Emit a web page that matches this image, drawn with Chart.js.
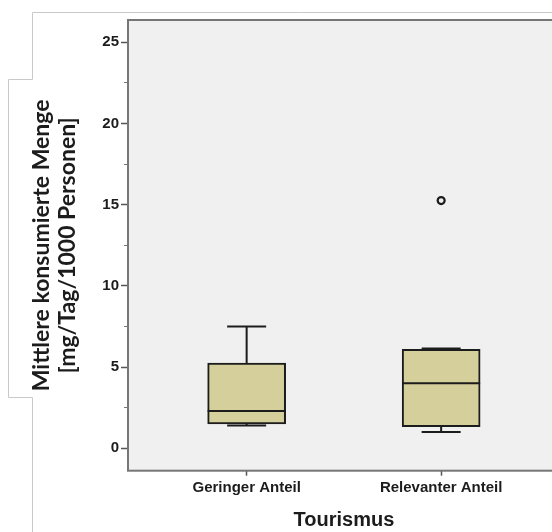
<!DOCTYPE html>
<html>
<head>
<meta charset="utf-8">
<script src="https://cdn.jsdelivr.net/npm/chart.js@4.4.0/dist/chart.umd.min.js"></script>
<style>
  html, body { margin: 0; padding: 0; background: #ffffff; overflow: hidden; width: 552px; height: 532px; }
  #wrap { position: relative; width: 566px; height: 532px; }
</style>
</head>
<body>
<div id="wrap"><canvas id="c" width="566" height="532"></canvas></div>
<script>
// Boxplot statistics per group
const categories  = ['Geringer Anteil', 'Relevanter Anteil'];
const whiskerLow  = [1.4, 1.0];
const q1          = [1.5, 1.33];
const median      = [2.3, 4.0];
const q3          = [5.25, 6.1];
const whiskerHigh = [7.5, 6.15];
const outliers    = [[], [15.25]];

// Axis ticks
const yTicks      = [0, 5, 10, 15, 20, 25];
const yMinorTicks = [2.5, 7.5, 12.5, 17.5, 22.5];
const yTitle      = ['Mittlere konsumierte Menge', '[mg/Tag/1000 Personen]'];
const xTitle      = 'Tourismus';

const BOX_WIDTH = 78;
const INK = '#1c1c1c';

// Background panel, plot frame and the outline of the label box
const framePlugin = {
  id: 'frame',
  beforeDraw(chart) {
    const { ctx, chartArea: a } = chart;
    ctx.save();
    ctx.strokeStyle = '#c9c9c9';
    ctx.lineWidth = 1;
    ctx.beginPath();
    ctx.moveTo(chart.width, 12.5);
    ctx.lineTo(32.5, 12.5);
    ctx.lineTo(32.5, 79.5);
    ctx.lineTo(8.5, 79.5);
    ctx.lineTo(8.5, 397.5);
    ctx.lineTo(32.5, 397.5);
    ctx.lineTo(32.5, chart.height);
    ctx.stroke();
    ctx.fillStyle = '#f0f0f0';
    ctx.fillRect(a.left, a.top, a.right - a.left, a.bottom - a.top);
    ctx.restore();
  },
  afterDraw(chart) {
    const { ctx, chartArea: a } = chart;
    ctx.save();
    ctx.strokeStyle = '#767676';
    ctx.lineWidth = 2;
    ctx.strokeRect(a.left, a.top, a.right - a.left, a.bottom - a.top);
    ctx.restore();
  }
};

// Whiskers, caps and median lines drawn through the scales
const boxPlugin = {
  id: 'boxParts',
  afterDatasetsDraw(chart) {
    const { ctx } = chart;
    const xs = chart.scales.x, ys = chart.scales.y;
    ctx.save();
    ctx.strokeStyle = INK;
    ctx.lineWidth = 2;
    ctx.lineCap = 'butt';
    categories.forEach((c, i) => {
      const cx = xs.getPixelForValue(i + 1);
      const half = BOX_WIDTH / 2;
      const cap = BOX_WIDTH / 4;
      const yQ1 = ys.getPixelForValue(q1[i]);
      const yQ3 = ys.getPixelForValue(q3[i]);
      const yLo = ys.getPixelForValue(whiskerLow[i]);
      const yHi = ys.getPixelForValue(whiskerHigh[i]);
      const yMed = ys.getPixelForValue(median[i]);
      ctx.beginPath();
      ctx.moveTo(cx, yQ3); ctx.lineTo(cx, yHi);
      ctx.moveTo(cx - cap, yHi); ctx.lineTo(cx + cap, yHi);
      ctx.moveTo(cx, yQ1); ctx.lineTo(cx, yLo);
      ctx.moveTo(cx - cap, yLo); ctx.lineTo(cx + cap, yLo);
      ctx.moveTo(cx - half, yMed); ctx.lineTo(cx + half, yMed);
      ctx.stroke();
    });
    ctx.restore();
  }
};

const boxData = categories.map((c, i) => ({ x: i + 1, y: [q1[i], q3[i]] }));
const outlierData = [];
outliers.forEach((list, i) => list.forEach(v => outlierData.push({ x: i + 1, y: v })));

new Chart(document.getElementById('c'), {
  type: 'bar',
  data: {
    datasets: [
      {
        label: 'Box',
        data: boxData,
        backgroundColor: '#d4cf9b',
        borderColor: INK,
        borderWidth: 2,
        borderSkipped: false,
        barThickness: BOX_WIDTH
      },
      {
        type: 'scatter',
        label: 'Ausreißer',
        data: outlierData,
        pointRadius: 3.5,
        pointBorderWidth: 2.2,
        borderColor: INK,
        backgroundColor: '#f0f0f0'
      }
    ]
  },
  options: {
    responsive: false,
    animation: false,
    devicePixelRatio: 1,
    layout: { padding: { left: 0, right: 6, top: 20, bottom: 0 } },
    plugins: { legend: { display: false }, tooltip: { enabled: false } },
    scales: {
      x: {
        type: 'linear',
        min: 0.39,
        max: 2.61,
        offset: false,
        afterFit(scale) { scale.height = 61.3; },
        afterBuildTicks(scale) { scale.ticks = categories.map((c, i) => ({ value: i + 1 })); },
        border: { display: false },
        grid: { offset: false, drawOnChartArea: false, drawTicks: true, tickLength: 5, tickColor: '#555', tickWidth: 1.5 },
        ticks: {
          autoSkip: false,
          maxRotation: 0,
          padding: 3,
          color: INK,
          font: { family: 'Liberation Sans', size: 15, weight: 'bold' },
          callback: v => categories[v - 1]
        },
        title: {
          display: true,
          text: xTitle,
          color: INK,
          font: { family: 'Liberation Sans', size: 20, weight: 'bold', lineHeight: '22px' },
          padding: { top: 0, bottom: 1 }
        }
      },
      y: {
        type: 'linear',
        position: 'left',
        weight: 2,
        min: -1.38,
        max: 26.37,
        afterFit(scale) { scale.width = 128; },
        afterBuildTicks(scale) { scale.ticks = yTicks.map(v => ({ value: v })); },
        border: { display: false },
        grid: { drawOnChartArea: false, drawTicks: true, tickLength: 7, tickColor: '#555', tickWidth: 1.5 },
        ticks: {
          padding: 2,
          color: INK,
          font: { family: 'Liberation Sans', size: 15, weight: 'bold' }
        },
        title: {
          display: true,
          text: yTitle,
          color: INK,
          font: { family: 'Lato', size: 23, weight: 'bold', lineHeight: '26px' },
          padding: { top: 29, bottom: 0 }
        }
      },
      yMinor: {
        type: 'linear',
        position: 'left',
        weight: 1,
        min: -1.38,
        max: 26.37,
        afterFit(scale) { scale.width = 0; },
        afterBuildTicks(scale) { scale.ticks = yMinorTicks.map(v => ({ value: v })); },
        border: { display: false },
        grid: { drawOnChartArea: false, drawTicks: true, tickLength: 4, tickColor: '#777', tickWidth: 1 },
        ticks: { display: false }
      }
    }
  },
  plugins: [framePlugin, boxPlugin]
});
</script>
</body>
</html>
